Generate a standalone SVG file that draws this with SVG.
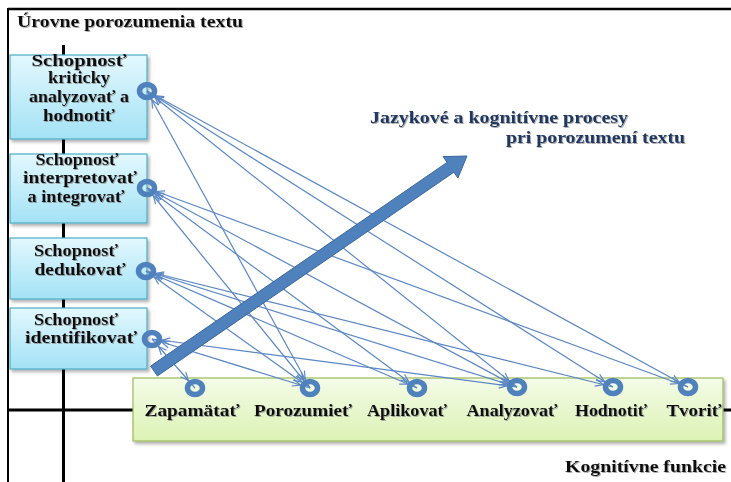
<svg xmlns="http://www.w3.org/2000/svg" width="731" height="482" viewBox="0 0 731 482">
<defs>
  <linearGradient id="gBlue" x1="0" y1="0" x2="0" y2="1">
    <stop offset="0" stop-color="#E3F8FE"/>
    <stop offset="1" stop-color="#A3E2F5"/>
  </linearGradient>
  <linearGradient id="gGreen" x1="0" y1="0" x2="0" y2="1">
    <stop offset="0" stop-color="#F4FCE8"/>
    <stop offset="1" stop-color="#DCF2B4"/>
  </linearGradient>
  <filter id="shadow" x="-10%" y="-10%" width="130%" height="130%">
    <feDropShadow dx="2" dy="2.5" stdDeviation="1.5" flood-color="#000" flood-opacity="0.3"/>
  </filter>
  <filter id="tshadow" x="-10%" y="-30%" width="120%" height="160%">
    <feDropShadow dx="1" dy="1" stdDeviation="0.6" flood-color="#777" flood-opacity="0.6"/>
  </filter>
  <marker id="ah" markerUnits="userSpaceOnUse" markerWidth="20" markerHeight="20" refX="10" refY="0" orient="auto-start-reverse" overflow="visible">
    <path d="M-8,-3.5 L0,0 L-8,3.5" fill="none" stroke="#5B87C5" stroke-width="1.2"/>
  </marker>
</defs>
<style>
  .frame { stroke: #000; fill: none; }
  .lbox { fill: url(#gBlue); stroke: #4BACC6; stroke-width: 1.2; filter: url(#shadow); }
  .gbox { fill: url(#gGreen); stroke: #9BBB59; stroke-width: 1.2; filter: url(#shadow); }
  .t { font-family: "Liberation Serif", "Times New Roman", serif; font-weight: bold; fill: #111; filter: url(#tshadow); }
  .lt { font-size: 16px; text-anchor: middle; }
  .bt { font-size: 17px; text-anchor: middle; }
  .nv { fill: #1F3864; font-size: 17px; }
  .ring { fill: none; stroke: #4F81BD; stroke-width: 5.5; }
  .conn line { stroke: #5B87C5; stroke-width: 1.2; marker-start: url(#ah); marker-end: url(#ah); }
  .big { fill: #4F81BD; stroke: #3C679E; stroke-width: 1; }
</style>

<g id="frame">
  <line class="frame" x1="8" y1="9" x2="731" y2="9" stroke-width="2.5"/>
  <line class="frame" x1="8" y1="8" x2="8" y2="482" stroke-width="2"/>
  <line class="frame" x1="63.5" y1="45" x2="63.5" y2="482" stroke-width="3"/>
  <line class="frame" x1="8" y1="410" x2="731" y2="410" stroke-width="3"/>
</g>

<text class="t" x="17" y="27" font-size="17" textLength="226" lengthAdjust="spacingAndGlyphs">Úrovne  porozumenia  textu</text>

<g id="node-kriticky">
  <rect class="lbox" x="10" y="55" width="137" height="84"/>
  <text class="t lt" font-size="17" x="79" y="66" textLength="95" lengthAdjust="spacingAndGlyphs">Schopnosť</text>
  <text class="t lt" font-size="17" x="79" y="83" textLength="62" lengthAdjust="spacingAndGlyphs">kriticky</text>
  <text class="t lt" font-size="17" x="79" y="102" textLength="100" lengthAdjust="spacingAndGlyphs">analyzovať a</text>
  <text class="t lt" font-size="17" x="79" y="121" textLength="72" lengthAdjust="spacingAndGlyphs">hodnotiť</text>
</g>
<g id="node-interpretovat">
  <rect class="lbox" x="10" y="154" width="137" height="69"/>
  <text class="t lt" x="77" y="165" textLength="83" lengthAdjust="spacingAndGlyphs">Schopnosť</text>
  <text class="t lt" x="80" y="183" textLength="114" lengthAdjust="spacingAndGlyphs">interpretovať</text>
  <text class="t lt" x="76" y="202" textLength="97" lengthAdjust="spacingAndGlyphs">a integrovať</text>
</g>
<g id="node-dedukovat">
  <rect class="lbox" x="10" y="238" width="137" height="61"/>
  <text class="t lt" x="76" y="256" textLength="84" lengthAdjust="spacingAndGlyphs">Schopnosť</text>
  <text class="t lt" x="80" y="275" textLength="91" lengthAdjust="spacingAndGlyphs">dedukovať</text>
</g>
<g id="node-identifikovat">
  <rect class="lbox" x="10" y="308" width="137" height="61"/>
  <text class="t lt" x="76" y="325" textLength="84" lengthAdjust="spacingAndGlyphs">Schopnosť</text>
  <text class="t lt" x="81" y="343" textLength="112" lengthAdjust="spacingAndGlyphs">identifikovať</text>
</g>

<g id="node-kognitivne-funkcie">
  <rect class="gbox" x="133" y="378" width="590" height="63"/>
  <text class="t bt" x="192" y="416" textLength="95" lengthAdjust="spacingAndGlyphs">Zapamätať</text>
  <text class="t bt" x="303" y="416" textLength="98" lengthAdjust="spacingAndGlyphs">Porozumieť</text>
  <text class="t bt" x="407" y="416" textLength="80" lengthAdjust="spacingAndGlyphs">Aplikovať</text>
  <text class="t bt" x="512" y="416" textLength="91" lengthAdjust="spacingAndGlyphs">Analyzovať</text>
  <text class="t bt" x="611" y="416" textLength="72" lengthAdjust="spacingAndGlyphs">Hodnotiť</text>
  <text class="t bt" x="694" y="416" textLength="55" lengthAdjust="spacingAndGlyphs">Tvoriť</text>
</g>

<g id="connectors" class="conn">
  <line x1="147" y1="91" x2="310" y2="388"/>
  <line x1="147" y1="91" x2="517" y2="387"/>
  <line x1="147" y1="91" x2="613" y2="387"/>
  <line x1="147" y1="91" x2="688" y2="387"/>
  <line x1="147" y1="188" x2="310" y2="388"/>
  <line x1="147" y1="188" x2="417" y2="388"/>
  <line x1="147" y1="188" x2="517" y2="387"/>
  <line x1="147" y1="188" x2="688" y2="387"/>
  <line x1="146" y1="271" x2="310" y2="388"/>
  <line x1="146" y1="271" x2="417" y2="388"/>
  <line x1="146" y1="271" x2="517" y2="387"/>
  <line x1="146" y1="271" x2="613" y2="387"/>
  <line x1="152" y1="339" x2="195" y2="388"/>
  <line x1="152" y1="339" x2="310" y2="388"/>
  <line x1="152" y1="339" x2="517" y2="387"/>
</g>

<g id="process-arrow">
  <polygon class="big" points="150.6,366.1 447.1,162.4 443.1,156.6 467,156 457.9,178 453.9,172.2 157.4,375.9"/>
</g>
<text class="t nv" x="370" y="123" textLength="258" lengthAdjust="spacingAndGlyphs">Jazykové  a  kognitívne  procesy</text>
<text class="t nv" x="506" y="143" textLength="179" lengthAdjust="spacingAndGlyphs">pri  porozumení  textu</text>

<g id="ports">
  <ellipse class="ring" cx="147" cy="91" rx="7.5" ry="6.5"/>
  <ellipse class="ring" cx="147" cy="188" rx="7.5" ry="6.5"/>
  <ellipse class="ring" cx="146" cy="271" rx="7.5" ry="6.5"/>
  <ellipse class="ring" cx="152" cy="339" rx="7.5" ry="6.5"/>
  <ellipse class="ring" cx="195" cy="388" rx="7.5" ry="6.5"/>
  <ellipse class="ring" cx="310" cy="388" rx="7.5" ry="6.5"/>
  <ellipse class="ring" cx="417" cy="388" rx="7.5" ry="6.5"/>
  <ellipse class="ring" cx="517" cy="387" rx="7.5" ry="6.5"/>
  <ellipse class="ring" cx="613" cy="387" rx="7.5" ry="6.5"/>
  <ellipse class="ring" cx="688" cy="387" rx="7.5" ry="6.5"/>
</g>

<text class="t" x="565" y="472" font-size="17" textLength="161" lengthAdjust="spacingAndGlyphs">Kognitívne  funkcie</text>
</svg>
